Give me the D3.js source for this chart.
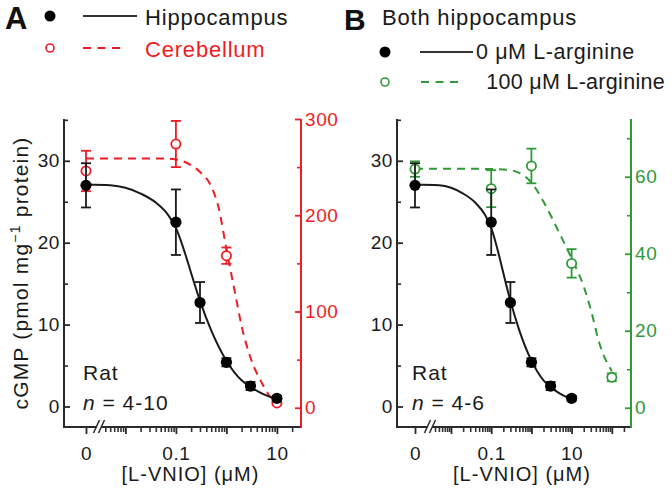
<!DOCTYPE html>
<html><head><meta charset="utf-8">
<script src="https://cdn.jsdelivr.net/npm/d3@7"></script>
<style>
body{margin:0;background:#fff}
svg{display:block}
text{font-family:"Liberation Sans",Arial,Helvetica,sans-serif}
</style>
</head><body>
<svg id="chart" width="672" height="492"></svg>
<script>
// ---------------- data ----------------
const concHippo = [0, 0.1, 0.3, 1, 3, 10];
const hippo = [27.0, 22.5, 12.7, 5.4, 2.5, 1.0];
const hippoErr = [2.7, 4.0, 2.5, 0.5, 0.5, 0.3];

const concCereb = [0, 0.1, 1, 10];
const cereb = [246, 274, 158, 5];
const cerebErr = [21, 24, 8.5, 2];

const concArg = [0, 0.1, 1, 10, 100];
const arg = [62.0, 56.9, 62.8, 37.5, 7.9];
const argErr = [2.0, 4.8, 4.5, 3.7, 1.0];

// fitted curves
const hippoFitConc = [0, 0.005, 0.01, 0.02, 0.04, 0.07, 0.1, 0.15, 0.2, 0.3, 0.5, 1, 2, 3, 5, 10];
const hippoFit = [27.1, 27.0, 26.7, 26.0, 24.9, 23.4, 21.8, 18.8, 16.3, 12.9, 9.3, 5.6, 3.2, 2.4, 1.6, 0.9];
const cerebFitConc = [0, 0.05, 0.1, 0.2, 0.3, 0.5, 0.7, 1, 1.5, 2, 3, 5, 7, 10];
const cerebFit = [259, 259, 258, 252, 245, 230, 208, 165, 118, 85, 52, 26, 13, 6];
const argFitConc = [0, 0.01, 0.1, 0.3, 0.5, 1, 2, 5, 10, 20, 30, 50, 70, 100];
const argFit = [62.1, 62.1, 62.0, 61.7, 61.0, 58.5, 53.5, 45.3, 38.8, 31.5, 25.5, 16.5, 12.5, 9.5];

// ticks
const leftTicks = [0, 10, 20, 30];
const leftMinor = [5, 15, 25, 35];
const redTicks = [0, 100, 200, 300];
const redMinor = [50, 150, 250];
const greenTicks = [0, 20, 40, 60];
const greenMinor = [10, 30, 50, 70];
const xLabelled = [0, 0.1, 10];

// ---------------- style ----------------
const RED = "#ee1d23";
const GREEN = "#2f9a37";
const INK = "#1a1a1a";
const AXIS = "#2a2a2a";

const svg = d3.select("#chart");
const plotTop = 119, plotBottom = 427;

function makeX(logScale, zeroX) {
  const f = c => c === 0 ? zeroX : logScale(c);
  f.copy = () => makeX(logScale.copy(), zeroX);
  f.range = () => logScale.range();
  f.domain = () => logScale.domain();
  return f;
}

function minorValues(lo, hi) {
  const out = [];
  for (let e = -3; e <= 3; e++) {
    for (let k = 2; k <= 9; k++) {
      const v = +(k * Math.pow(10, e)).toPrecision(6);
      if (v >= lo && v <= hi) out.push(v);
    }
  }
  return out;
}

function drawErr(g, s, x, y, color) {
  const e = g.append("g").attr("stroke", color).attr("stroke-width", 1.8);
  s.forEach(d => {
    const cx = x(d[0]), y1 = y(d[1] + d[2]), y2 = y(d[1] - d[2]);
    e.append("line").attr("x1", cx).attr("x2", cx).attr("y1", y1).attr("y2", y2);
    e.append("line").attr("x1", cx - 5).attr("x2", cx + 5).attr("y1", y1).attr("y2", y1);
    e.append("line").attr("x1", cx - 5).attr("x2", cx + 5).attr("y1", y2).attr("y2", y2);
  });
}

function drawPanel(p) {
  const g = svg.append("g");
  const xl = d3.scaleLog().domain(p.logDomain).range(p.logRange);
  const x = makeX(xl, p.zeroX);
  const yL = d3.scaleLinear().domain([-2.5, 35.1]).range([plotBottom, plotTop]);
  const yR = d3.scaleLinear().domain(p.rightDomain).range([plotBottom, plotTop]);

  // --- x axis: minor ticks
  const ax = g.append("g").attr("transform", `translate(0,${plotBottom})`);
  ax.call(d3.axisBottom(x).tickValues(minorValues(0.004, p.minorMax)).tickSize(5).tickSizeOuter(0).tickFormat(""));
  ax.select(".domain").remove();
  ax.selectAll("line").attr("stroke", "#333").attr("stroke-width", 1.6);
  const ax2 = g.append("g").attr("transform", `translate(0,${plotBottom})`);
  ax2.call(d3.axisBottom(x).tickValues(p.majorX).tickSize(7).tickSizeOuter(0)
    .tickFormat(d => xLabelled.includes(d) ? (d === 0 ? "0" : String(d)) : ""));
  ax2.select(".domain").remove();
  ax2.selectAll("line").attr("stroke", AXIS).attr("stroke-width", 1.8);
  ax2.selectAll("text").attr("y", 33).attr("dy", 0).attr("fill", INK)
    .style("font-size", "19px").style("letter-spacing", "0.6px");
  g.append("line").attr("x1", p.left).attr("x2", p.right).attr("y1", plotBottom).attr("y2", plotBottom)
    .attr("stroke", AXIS).attr("stroke-width", 2);
  // break
  const bx = xl(p.logDomain[0]);
  g.append("rect").attr("x", bx - 2.5).attr("y", plotBottom - 5).attr("width", 5).attr("height", 12).attr("fill", "#fff");
  [-2.5, 2.5].forEach(o => {
    g.append("line").attr("x1", bx + o - 3).attr("y1", plotBottom + 6).attr("x2", bx + o + 3).attr("y2", plotBottom - 7)
      .attr("stroke", AXIS).attr("stroke-width", 1.5);
  });

  // --- left axis
  const ay = g.append("g").attr("transform", `translate(${p.left},0)`);
  ay.call(d3.axisLeft(yL).tickValues(leftTicks).tickSize(-6).tickPadding(4).tickSizeOuter(0));
  ay.select(".domain").remove();
  ay.selectAll("line").attr("stroke", AXIS).attr("stroke-width", 1.8);
  ay.selectAll("text").attr("fill", INK).style("font-size", "19px").style("letter-spacing", "0.6px");
  const ay2 = g.append("g").attr("transform", `translate(${p.left},0)`);
  ay2.call(d3.axisLeft(yL).tickValues(leftMinor).tickSize(-4).tickSizeOuter(0).tickFormat(""));
  ay2.select(".domain").remove();
  ay2.selectAll("line").attr("stroke", AXIS).attr("stroke-width", 1.6);
  g.append("line").attr("x1", p.left).attr("x2", p.left).attr("y1", plotTop).attr("y2", plotBottom + 1)
    .attr("stroke", AXIS).attr("stroke-width", 2);

  // --- right axis
  const ar = g.append("g").attr("transform", `translate(${p.right},0)`);
  ar.call(d3.axisRight(yR).tickValues(p.rightTicks).tickSize(-6).tickPadding(4).tickSizeOuter(0));
  ar.select(".domain").remove();
  ar.selectAll("line").attr("stroke", p.color).attr("stroke-width", 1.8);
  ar.selectAll("text").attr("fill", p.color).style("font-size", "19px").style("letter-spacing", "0.6px");
  const ar2 = g.append("g").attr("transform", `translate(${p.right},0)`);
  ar2.call(d3.axisRight(yR).tickValues(p.rightMinor).tickSize(-4).tickSizeOuter(0).tickFormat(""));
  ar2.select(".domain").remove();
  ar2.selectAll("line").attr("stroke", p.color).attr("stroke-width", 1.6);
  g.append("line").attr("x1", p.right).attr("x2", p.right).attr("y1", plotTop).attr("y2", plotBottom + 1)
    .attr("stroke", p.color).attr("stroke-width", 2);

  // --- second series (right axis)
  const fit2 = d3.zip(p.fit2Conc, p.fit2);
  g.append("path").datum(fit2)
    .attr("d", d3.line().x(d => x(d[0])).y(d => yR(d[1])).curve(d3.curveMonotoneX))
    .attr("fill", "none").attr("stroke", p.color).attr("stroke-width", 2).attr("stroke-dasharray", "8,6");
  const s2 = d3.zip(p.conc2, p.vals2, p.err2);
  drawErr(g, s2, x, yR, p.color);
  g.selectAll(null).data(s2).enter().append("circle")
    .attr("cx", d => x(d[0])).attr("cy", d => yR(d[1])).attr("r", 4.6)
    .attr("fill", "#fff").attr("stroke", p.color).attr("stroke-width", 1.8);

  // --- hippocampus (left axis)
  const fit1 = d3.zip(hippoFitConc, hippoFit);
  g.append("path").datum(fit1)
    .attr("d", d3.line().x(d => x(d[0])).y(d => yL(d[1])).curve(d3.curveMonotoneX))
    .attr("fill", "none").attr("stroke", INK).attr("stroke-width", 2);
  const s1 = d3.zip(concHippo, hippo, hippoErr);
  drawErr(g, s1, x, yL, INK);
  g.selectAll(null).data(s1).enter().append("circle")
    .attr("cx", d => x(d[0])).attr("cy", d => yL(d[1])).attr("r", 5.6).attr("fill", "#000");

  // --- x title
  g.append("text").attr("x", (p.left + p.right) / 2 + 8).attr("y", 481).attr("text-anchor", "middle")
    .attr("fill", INK).style("font-size", "20px").style("letter-spacing", "1px").text("[L-VNIO] (μM)");

  // --- Rat / n
  g.append("text").attr("x", p.zeroX - 3).attr("y", 380).attr("fill", INK)
    .style("font-size", "21px").style("letter-spacing", "1px").text("Rat");
  const nt = g.append("text").attr("x", p.zeroX - 3).attr("y", 410).attr("fill", INK)
    .style("font-size", "21px").style("letter-spacing", "1px");
  nt.append("tspan").style("font-style", "italic").text("n");
  nt.append("tspan").text(" = " + p.nText);
}

drawPanel({
  left: 64, right: 301, zeroX: 86, logDomain: [0.003, 30], logRange: [99, 301], minorMax: 20,
  majorX: [0, 0.01, 0.1, 1, 10],
  rightDomain: [-20, 300], rightTicks: redTicks, rightMinor: redMinor, color: RED,
  conc2: concCereb, vals2: cereb, err2: cerebErr, fit2Conc: cerebFitConc, fit2: cerebFit,
  nText: "4-10"
});
drawPanel({
  left: 397, right: 631, zeroX: 415, logDomain: [0.003, 300], logRange: [430, 631], minorMax: 200,
  majorX: [0, 0.01, 0.1, 1, 10, 100],
  rightDomain: [-5, 75], rightTicks: greenTicks, rightMinor: greenMinor, color: GREEN,
  conc2: concArg, vals2: arg, err2: argErr, fit2Conc: argFitConc, fit2: argFit,
  nText: "4-6"
});

// y title
const yt = svg.append("text").attr("transform", "translate(28,273) rotate(-90)").attr("text-anchor", "middle")
  .attr("fill", INK).style("font-size", "21px").style("letter-spacing", "1.2px");
yt.append("tspan").text("cGMP (pmol mg");
yt.append("tspan").attr("dy", -8).style("font-size", "14px").text("−1");
yt.append("tspan").attr("dy", 8).text(" protein)");

// panel letters
svg.append("text").attr("x", 5).attr("y", 29).style("font-size", "31px").style("font-weight", "bold").attr("fill", "#111").text("A");
svg.append("text").attr("x", 344).attr("y", 30).style("font-size", "30px").style("font-weight", "bold").attr("fill", "#111").text("B");

// legends
const leg = svg.append("g");
leg.append("circle").attr("cx", 50).attr("cy", 16).attr("r", 5.5).attr("fill", "#000");
leg.append("line").attr("x1", 83).attr("x2", 137).attr("y1", 16).attr("y2", 16).attr("stroke", "#333").attr("stroke-width", 2);
leg.append("text").attr("x", 145).attr("y", 25).attr("fill", INK).style("font-size", "22px").style("letter-spacing", "0.8px").text("Hippocampus");
leg.append("circle").attr("cx", 50).attr("cy", 48).attr("r", 4).attr("fill", "#fff").attr("stroke", RED).attr("stroke-width", 1.6);
leg.append("line").attr("x1", 83).attr("x2", 126).attr("y1", 48).attr("y2", 48).attr("stroke", RED).attr("stroke-width", 2).attr("stroke-dasharray", "8,6.5");
leg.append("text").attr("x", 145).attr("y", 57).attr("fill", RED).style("font-size", "22px").style("letter-spacing", "0.8px").text("Cerebellum");

leg.append("text").attr("x", 382).attr("y", 25).attr("fill", INK).style("font-size", "22px").style("letter-spacing", "0.8px").text("Both hippocampus");
leg.append("circle").attr("cx", 385).attr("cy", 52).attr("r", 5.5).attr("fill", "#000");
leg.append("line").attr("x1", 420).attr("x2", 473).attr("y1", 52).attr("y2", 52).attr("stroke", "#333").attr("stroke-width", 2);
leg.append("text").attr("x", 476).attr("y", 59).attr("fill", INK).style("font-size", "21.5px").style("letter-spacing", "0.6px").text("0 μM L-arginine");
leg.append("circle").attr("cx", 385).attr("cy", 82).attr("r", 4).attr("fill", "#fff").attr("stroke", GREEN).attr("stroke-width", 1.6);
leg.append("line").attr("x1", 421).attr("x2", 459).attr("y1", 82).attr("y2", 82).attr("stroke", GREEN).attr("stroke-width", 2).attr("stroke-dasharray", "8,6.5");
leg.append("text").attr("x", 665).attr("y", 89).attr("text-anchor", "end").attr("fill", INK).style("font-size", "21.5px").style("letter-spacing", "0.3px").text("100 μM L-arginine");
</script>
</body></html>
